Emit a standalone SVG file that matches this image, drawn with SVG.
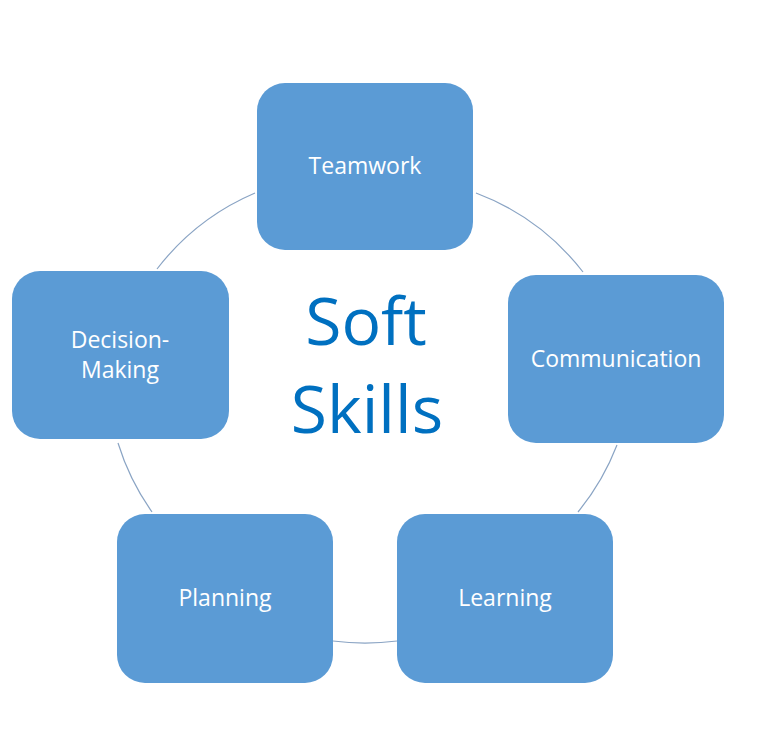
<svg xmlns="http://www.w3.org/2000/svg" width="762" height="747" viewBox="0 0 762 747">
<style>
.node rect{fill:#5B9BD5;}
.node text{fill:#FFFFFF;font-family:"Open Sans","Liberation Sans",sans-serif;font-size:23px;text-anchor:middle;}
.conn path{fill:none;stroke:#8AA4C4;stroke-width:1.2;}
.title{fill:#0070C0;font-family:"Open Sans","Liberation Sans",sans-serif;font-size:66px;text-anchor:middle;}
</style>
<rect width="762" height="747" fill="#FFFFFF"/>
<g id="connectors" class="conn">
<path d="M476,193 A245,245 0 0 1 583,272"/>
<path d="M617,445 A245,245 0 0 1 578,512"/>
<path d="M397,641 A245,245 0 0 1 333,641"/>
<path d="M152,512 A245,245 0 0 1 118,443"/>
<path d="M157,269 A245,245 0 0 1 255,193"/>
</g>
<g id="center">
<text class="title" x="366" y="345">Soft</text>
<text class="title" x="367" y="433">Skills</text>
</g>
<g id="teamwork" class="node">
<rect x="257" y="83" width="216" height="167" rx="28"/>
<text x="365" y="174">Teamwork</text>
</g>
<g id="communication" class="node">
<rect x="508" y="275" width="216" height="168" rx="28"/>
<text x="616" y="367">Communication</text>
</g>
<g id="learning" class="node">
<rect x="397" y="514" width="216" height="169" rx="28"/>
<text x="505" y="606">Learning</text>
</g>
<g id="planning" class="node">
<rect x="117" y="514" width="216" height="169" rx="28"/>
<text x="225" y="606">Planning</text>
</g>
<g id="decision-making" class="node">
<rect x="12" y="271" width="217" height="168" rx="28"/>
<text x="120" y="348">Decision-</text>
<text x="120" y="378">Making</text>
</g>
</svg>
